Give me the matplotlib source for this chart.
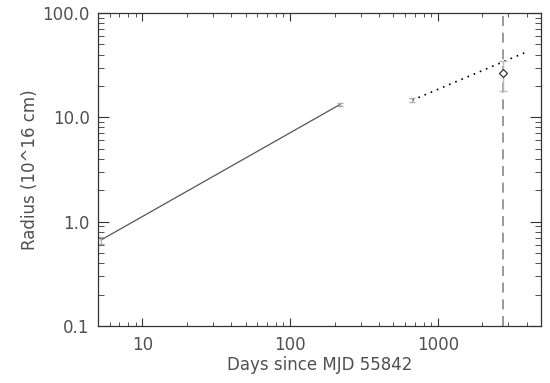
import numpy as np
import matplotlib
matplotlib.use('Agg')
import matplotlib.pyplot as plt
from matplotlib.ticker import FixedLocator, LogLocator, NullFormatter

# early expansion (solid line)
fit1_days = [5.25, 218.0]
fit1_radius = [0.667, 13.3]

# late expansion (dotted line)
fit2_days = [670.0, 4000.0]
fit2_radius = [14.6, 42.5]

# measured points with small error bars
pt_days = [5.25, 218.0, 670.0]
pt_radius = [0.667, 13.3, 14.6]
pt_err = [0.05, 0.4, 0.6]

# latest measurement (diamond)
last_day = 2750.0
last_radius = 26.5
last_lo = 17.8
last_hi = 34.5

ytick_vals = [0.1, 1.0, 10.0, 100.0]
ytick_labels = ['0.1', '1.0', '10.0', '100.0']
xtick_vals = [10, 100, 1000]
xtick_labels = ['10', '100', '1000']

txt = '#505050'
plt.rcParams['font.family'] = 'DejaVu Sans'

fig = plt.figure(figsize=(5.5, 3.83), dpi=100)
ax = fig.add_axes([0.178, 0.149, 0.806, 0.817])
ax.set_xscale('log')
ax.set_yscale('log')
ax.set_xlim(5, 5000)
ax.set_ylim(0.1, 100)

ax.plot(fit1_days, fit1_radius, color='#555555', lw=0.9)
ax.plot(fit2_days, fit2_radius, color='black', lw=1.2, linestyle=(0, (1, 3)))
ax.errorbar(pt_days, pt_radius, yerr=pt_err, fmt='none', ecolor='#aaaaaa',
            elinewidth=0.8, capsize=2)
ax.axvline(last_day, color='#888888', lw=1.2, linestyle=(0, (6, 4)))
ax.errorbar([last_day], [last_radius],
            yerr=[[last_radius - last_lo], [last_hi - last_radius]],
            fmt='none', ecolor='#bbbbbb', elinewidth=1.0, capsize=3)
ax.plot([last_day], [last_radius], marker='D', ms=4.5, mfc='white',
        mec='#333333', mew=0.9, linestyle='none')

ax.xaxis.set_major_locator(FixedLocator(xtick_vals))
ax.set_xticklabels(xtick_labels)
ax.yaxis.set_major_locator(FixedLocator(ytick_vals))
ax.set_yticklabels(ytick_labels)
ax.xaxis.set_minor_locator(LogLocator(base=10, subs=np.arange(2, 10)))
ax.yaxis.set_minor_locator(LogLocator(base=10, subs=np.arange(2, 10)))
ax.xaxis.set_minor_formatter(NullFormatter())
ax.yaxis.set_minor_formatter(NullFormatter())

ax.tick_params(which='both', direction='in', top=True, right=True,
               color='#333333', labelcolor=txt, labelsize=12)
ax.tick_params(axis='x', which='major', length=6, pad=7)
ax.tick_params(axis='x', which='minor', length=3)
ax.tick_params(axis='y', which='major', length=8, pad=6)
ax.tick_params(axis='y', which='minor', length=4)
for s in ax.spines.values():
    s.set_color('#333333')
    s.set_linewidth(0.9)

ax.set_xlabel('Days since MJD 55842', fontsize=12, color=txt, labelpad=2)
ax.set_ylabel('Radius (10^16 cm)', fontsize=12, color=txt, labelpad=2)

fig.savefig('out.png', dpi=100)
